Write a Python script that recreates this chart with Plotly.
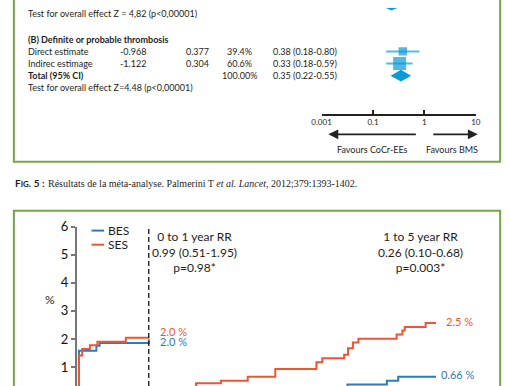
import plotly.graph_objects as go

W, H = 509, 386


def px(x):
    return x / W


def py(y):
    return 1 - y / H


# ---------------- Forest plot data ----------------
prev_test = "Test for overall effect Z = 4,82 (p<0,00001)"
prev_total_rr, prev_total_lo, prev_total_hi = 0.23, 0.13, 0.40  # partly visible diamond (section A)
sec_b_title = "(B) Definite or probable thrombosis"
study_names = ["Direct estimate", "Indirec estimage"]
log_rr = [-0.968, -1.122]
se_log = [0.377, 0.304]
weights = [39.4, 60.6]
rr = [0.38, 0.33]
rr_lo = [0.18, 0.18]
rr_hi = [0.80, 0.59]
total_label = "Total (95% CI)"
total_weight = 100.00
total_rr, total_lo, total_hi = 0.35, 0.22, 0.55
sec_b_test = "Test for overall effect Z=4.48 (p<0,00001)"
forest_tickvals = [0.01, 0.1, 1, 10]
forest_ticktext = ["0.001", "0.1", "1", "10"]
favours_left = "Favours CoCr-EEs"
favours_right = "Favours BMS"

caption_lead = "<b>F<span style='font-size:8px'>IG</span>. 5 :</b>"
caption_body = "Résultats de la méta-analyse. Palmerini T <i>et al. Lancet</i>, 2012;379:1393-1402."

# ---------------- Cumulative incidence data (years, %) ----------------
bes_t1 = [0, 0.027, 0.27, 0.315, 1.0]
bes_v1 = [0, 1.58, 1.76, 1.86, 1.99]
ses_t1 = [0, 0.027, 0.072, 0.18, 0.284, 0.68, 1.0]
ses_v1 = [0, 1.41, 1.64, 1.78, 1.90, 2.04, 2.04]
bes_t2 = [1.0, 3.766, 4.315, 4.473, 5.0]
bes_v2 = [0, 0.38, 0.51, 0.65, 0.65]
ses_t2 = [1.0, 1.658, 2.004, 2.378, 2.761, 3.334, 3.415, 3.72, 3.774, 3.842,
          3.919, 4.45, 4.531, 4.564, 4.855, 5.0]
ses_v2 = [0, 0.42, 0.51, 0.65, 0.93, 1.17, 1.31, 1.44, 1.67, 1.87,
          2.01, 2.16, 2.30, 2.43, 2.57, 2.57]
km_yticks = [1, 2, 3, 4, 5, 6]
rr_early = "0 to 1 year RR<br>0.99 (0.51-1.95)<br>p=0.98*"
rr_late = "1 to 5 year RR<br>0.26 (0.10-0.68)<br>p=0.003*"
end_labels = {"ses1": "2.0 %", "bes1": "2.0 %", "ses2": "2.5 %", "bes2": "0.66 %"}

# ---------------- styles ----------------
SANS = "Lato, 'Open Sans', sans-serif"
SERIF = "'Liberation Serif', 'DejaVu Serif', serif"
MARK = "#0a9ad6"
CI = "#55b9e6"
BES_C = "#2b7bbd"
SES_C = "#ef5533"
GREEN = "#75a646"
TXT = "#1e1e1e"

# forest row indices (layout)
ROW = {"prev_total": -0.84, "prev_test": -0.15, "title": 2, "studies": [3, 4], "total": 5, "test": 6}
row_px0, row_step = 44.3, 12.4  # pixel y of row 3, pixel per row
f_top = 3 - row_px0 / row_step
f_bot = 3 + (108 - row_px0) / row_step

fig = go.Figure()

# section A total diamond (cut by top)
fig.add_trace(go.Scatter(
    x=[prev_total_lo, prev_total_rr, prev_total_hi, prev_total_rr, prev_total_lo],
    y=[ROW["prev_total"], ROW["prev_total"] - 0.48, ROW["prev_total"],
       ROW["prev_total"] + 0.48, ROW["prev_total"]],
    fill="toself", fillcolor=MARK, line=dict(width=0), mode="lines",
    xaxis="x", yaxis="y", showlegend=False, hoverinfo="skip"))

# study squares with CIs
fig.add_trace(go.Scatter(
    x=rr, y=ROW["studies"], mode="markers",
    marker=dict(symbol="square", color=MARK, size=[w * 0.215 for w in weights], line=dict(width=0)),
    error_x=dict(type="data", symmetric=False,
                 array=[h - r for h, r in zip(rr_hi, rr)],
                 arrayminus=[r - l for r, l in zip(rr, rr_lo)],
                 color=CI, thickness=2, width=0),
    xaxis="x", yaxis="y", showlegend=False))

# total diamond
fig.add_trace(go.Scatter(
    x=[total_lo, total_rr, total_hi, total_rr, total_lo],
    y=[ROW["total"], ROW["total"] - 0.48, ROW["total"], ROW["total"] + 0.48, ROW["total"]],
    fill="toself", fillcolor=MARK, line=dict(width=0), mode="lines",
    xaxis="x", yaxis="y", showlegend=False, hoverinfo="skip"))

# KM curves
for t, v, c, nm in [(bes_t1, bes_v1, BES_C, "BES"), (ses_t1, ses_v1, SES_C, "SES"),
                    (bes_t2, bes_v2, BES_C, "BES"), (ses_t2, ses_v2, SES_C, "SES")]:
    fig.add_trace(go.Scatter(x=t, y=v, mode="lines", line=dict(color=c, width=2, shape="hv"),
                             xaxis="x2", yaxis="y2", name=nm, showlegend=False))

ann = []
shapes = []

# forest text rows
def ftxt(text, xpx, row, anchor="left", bold=False, size=9):
    ann.append(dict(text=f"<b>{text}</b>" if bold else text, xref="paper", yref="y",
                    x=px(xpx), y=row, xanchor=anchor, yanchor="middle", showarrow=False,
                    font=dict(family=SANS, size=size, color=TXT)))

ftxt(prev_test, 17, ROW["prev_test"])
ftxt(sec_b_title, 17, ROW["title"], bold=True)
for i, r in enumerate(ROW["studies"]):
    ftxt(study_names[i], 17, r)
    ftxt(f"{log_rr[i]:.3f}", 127, r, "center")
    ftxt(f"{se_log[i]:.3f}", 193, r, "center")
    ftxt(f"{weights[i]:.1f}%", 236, r, "center")
    ftxt(f"{rr[i]:.2f} ({rr_lo[i]:.2f}-{rr_hi[i]:.2f})", 304, r, "center")
ftxt(total_label, 17, ROW["total"], bold=True)
ftxt(f"{total_weight:.2f}%", 236, ROW["total"], "center")
ftxt(f"{total_rr:.2f} ({total_lo:.2f}-{total_hi:.2f})", 304, ROW["total"], "center")
ftxt(sec_b_test, 17, ROW["test"])

# favours arrows and labels
ann.append(dict(x=px(328), y=py(129), xref="paper", yref="paper", ax=89, ay=0, text="",
                showarrow=True, arrowhead=2, arrowsize=1.1, arrowwidth=1.8, arrowcolor="#222"))
ann.append(dict(x=px(482), y=py(129), xref="paper", yref="paper", ax=-46, ay=0, text="",
                showarrow=True, arrowhead=2, arrowsize=1.1, arrowwidth=1.8, arrowcolor="#222"))
for t, xc in [(favours_left, 374), (favours_right, 455)]:
    ann.append(dict(text=t, x=px(xc), y=py(144), xref="paper", yref="paper", showarrow=False,
                    xanchor="center", yanchor="middle", font=dict(family=SANS, size=9, color=TXT)))

# caption
ann.append(dict(text=caption_lead, x=px(3), y=py(179), xref="paper", yref="paper", showarrow=False,
                xanchor="left", yanchor="middle", font=dict(family=SANS, size=10, color=TXT)))
ann.append(dict(text=caption_body, x=px(37), y=py(179), xref="paper", yref="paper", showarrow=False,
                xanchor="left", yanchor="middle", font=dict(family=SERIF, size=10, color=TXT)))

# KM annotations
ann.append(dict(text="%", x=px(34), y=py(307), xref="paper", yref="paper", showarrow=False,
                font=dict(family=SANS, size=12, color=TXT)))
for t, xc in [(rr_early, 190), (rr_late, 423)]:
    ann.append(dict(text=t, x=px(xc), y=py(249), xref="paper", yref="paper", showarrow=False,
                    xanchor="center", yanchor="middle", align="center",
                    font=dict(family=SANS, size=12, color=TXT)))
for key, xl, yl, c in [("ses1", 153, 330.7, SES_C), ("bes1", 153, 341, BES_C),
                       ("ses2", 447, 319.7, SES_C), ("bes2", 442, 374.7, BES_C)]:
    ann.append(dict(text=end_labels[key], x=px(xl), y=py(yl), xref="paper", yref="paper",
                    showarrow=False, xanchor="left", yanchor="middle",
                    font=dict(family=SANS, size=11, color=c)))
# legend
for nm, c, yl in [("BES", BES_C, 227.3), ("SES", SES_C, 241.7)]:
    shapes.append(dict(type="line", xref="paper", yref="paper", x0=px(84), x1=px(97), y0=py(yl), y1=py(yl),
                       line=dict(color=c, width=2)))
    ann.append(dict(text=nm, x=px(99), y=py(yl), xref="paper", yref="paper", showarrow=False,
                    xanchor="left", yanchor="middle", font=dict(family=SANS, size=12, color=TXT)))

# shapes: panels, reference line, dashed 1-year line
shapes.append(dict(type="rect", xref="paper", yref="paper", x0=px(4), x1=px(505), y0=py(157), y1=1.1,
                   line=dict(color=GREEN, width=2), layer="below"))
shapes.append(dict(type="rect", xref="paper", yref="paper", x0=px(4), x1=px(505), y0=-0.1, y1=py(207),
                   line=dict(color=GREEN, width=2), layer="below"))
shapes.append(dict(type="line", xref="x", yref="y domain", x0=0, x1=0, y0=0, y1=1,
                   line=dict(color="#111", width=1.5)))
shapes.append(dict(type="line", xref="x2", yref="y2 domain", x0=1, x1=1, y0=0, y1=1,
                   line=dict(color="#111", width=1.3, dash="5px,3px")))

km_bottom = (395.3 - 386) / 28.67

fig.update_layout(
    width=W, height=H, margin=dict(l=0, r=0, t=0, b=0),
    paper_bgcolor="white", plot_bgcolor="rgba(0,0,0,0)", showlegend=False,
    xaxis=dict(type="log", domain=[px(321), px(480)], range=[-2, 1], anchor="y",
               showline=True, linecolor="#222", linewidth=1.5, ticks="inside", ticklen=4,
               tickwidth=1.5, tickcolor="#222", tickvals=forest_tickvals, ticktext=forest_ticktext,
               tickfont=dict(family=SANS, size=8, color=TXT), showgrid=False, zeroline=False),
    yaxis=dict(domain=[py(108), 1], range=[f_bot, f_top], visible=False, anchor="x"),
    xaxis2=dict(domain=[px(69), px(439)], range=[0, 5], anchor="y2", visible=False),
    yaxis2=dict(domain=[0, py(223.3)], range=[km_bottom, 6.0], anchor="x2",
                showline=True, linecolor="#777", linewidth=2, ticks="outside", ticklen=4,
                tickwidth=1.5, tickcolor="#777", tickvals=km_yticks,
                tickfont=dict(family=SANS, size=13, color="#111"), showgrid=False, zeroline=False),
    annotations=ann, shapes=shapes,
)

fig.write_html("out.html", config={"displayModeBar": False},
               post_script="document.body.style.margin='0px';")
